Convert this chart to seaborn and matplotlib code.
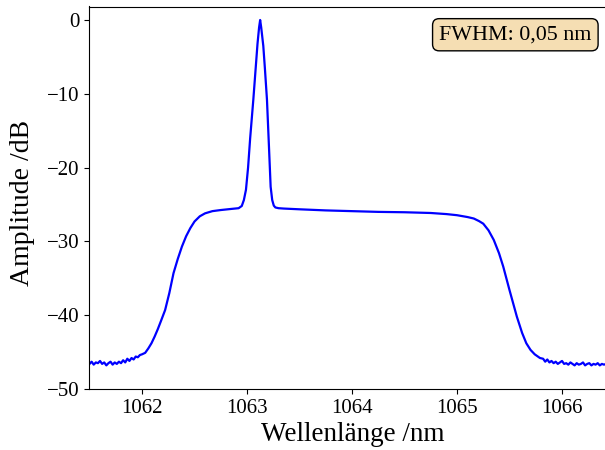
import numpy as np
import pandas as pd
import matplotlib
matplotlib.use("Agg")
import matplotlib.pyplot as plt
import seaborn as sns

# --- data ---
floor_left_x = [1061.50, 1061.52, 1061.54, 1061.56, 1061.58, 1061.60, 1061.62, 1061.64, 1061.66,
                1061.68, 1061.70, 1061.72, 1061.74, 1061.76, 1061.78, 1061.80, 1061.82, 1061.84,
                1061.86, 1061.88, 1061.90, 1061.92, 1061.94, 1061.96, 1061.98, 1062.00]
floor_left_y = [-46.6, -46.3, -46.7, -46.4, -46.5, -46.2, -46.6, -46.4, -46.8, -46.5, -46.3, -46.7,
                -46.4, -46.6, -46.3, -46.5, -46.1, -46.4, -45.9, -46.2, -45.8, -46.0, -45.6, -45.7,
                -45.4, -45.3]

body_x = [1062.03, 1062.06, 1062.09, 1062.12, 1062.15, 1062.18, 1062.22, 1062.26, 1062.30, 1062.34,
          1062.38, 1062.42, 1062.46, 1062.50, 1062.55, 1062.60, 1062.67, 1062.75, 1062.85, 1062.92,
          1062.95, 1062.97, 1062.99, 1063.01, 1063.03, 1063.06, 1063.08, 1063.10, 1063.115, 1063.125,
          1063.135, 1063.155, 1063.17, 1063.19, 1063.21, 1063.225, 1063.24, 1063.255, 1063.27, 1063.30,
          1063.35, 1063.50, 1063.75, 1064.00, 1064.25, 1064.50, 1064.75, 1064.90, 1065.00, 1065.10,
          1065.16, 1065.21, 1065.25, 1065.30, 1065.35, 1065.40, 1065.44, 1065.47, 1065.50, 1065.535,
          1065.57, 1065.62, 1065.66, 1065.70, 1065.74, 1065.79]
body_y = [-45.1, -44.5, -43.8, -42.9, -41.9, -40.8, -39.3, -37.0, -34.3, -32.4,
          -30.7, -29.3, -28.2, -27.3, -26.6, -26.2, -25.9, -25.75, -25.6, -25.5,
          -25.2, -24.4, -23.0, -20.0, -16.0, -10.8, -7.0, -3.2, -1.0, 0.0,
          -1.0, -3.5, -6.5, -10.8, -17.5, -22.6, -24.4, -25.15, -25.4, -25.5,
          -25.55, -25.65, -25.8, -25.9, -26.0, -26.05, -26.15, -26.3, -26.45, -26.7,
          -26.9, -27.25, -27.6, -28.5, -29.8, -31.6, -33.4, -35.0, -36.6, -38.4,
          -40.2, -42.4, -43.8, -44.7, -45.3, -45.8]

floor_right_x = [1065.82, 1065.84, 1065.86, 1065.88, 1065.90, 1065.92, 1065.94, 1065.96, 1065.98,
                 1066.00, 1066.02, 1066.04, 1066.06, 1066.08, 1066.10, 1066.12, 1066.14, 1066.16,
                 1066.18, 1066.20, 1066.22, 1066.24, 1066.26, 1066.28, 1066.30, 1066.32, 1066.34,
                 1066.36, 1066.38, 1066.40, 1066.42]
floor_right_y = [-45.9, -46.3, -46.0, -46.4, -46.2, -46.5, -46.3, -46.6, -46.4, -46.2, -46.6, -46.5,
                 -46.7, -46.4, -46.6, -46.8, -46.5, -46.7, -46.6, -46.4, -46.8, -46.6, -46.5, -46.8,
                 -46.6, -46.7, -46.5, -46.8, -46.6, -46.7, -46.6]

x_ticks = [1062, 1063, 1064, 1065, 1066]
y_ticks = [0, -10, -20, -30, -40, -50]
annotation = "FWHM: 0,05 nm"

df = pd.DataFrame({
    "wl": floor_left_x + body_x + floor_right_x,
    "amp": floor_left_y + body_y + floor_right_y,
})

plt.rcParams["font.family"] = ["Liberation Serif", "DejaVu Serif"]

fig = plt.figure(figsize=(6.05, 4.5), dpi=100)
W, H = 605, 450
ax = fig.add_axes([89 / W, (H - 389) / H, (606 - 89) / W, (389 - 6.5) / H])

sns.lineplot(data=df, x="wl", y="amp", color="blue", linewidth=1.6, estimator=None, ax=ax)

ax.set_xlim(1061.495, 1066.419)
ax.set_ylim(-50, 1.83)
ax.set_xticks(x_ticks)
ax.set_yticks(y_ticks)
ax.tick_params(labelsize=15)
ax.set_xlabel("Wellenlänge /nm", fontsize=19.5)
ax.set_ylabel("Amplitude /dB", fontsize=20)
ax.xaxis.set_label_coords(0.51, -0.086)
ax.yaxis.set_label_coords(-0.104, 0.486)

ax.text(0.972, 0.951, annotation, transform=ax.transAxes, ha="right", va="top", fontsize=15.8,
        bbox=dict(boxstyle="round,pad=0.3", facecolor="wheat", edgecolor="black", alpha=1.0))

fig.savefig("out.png", dpi=100)
